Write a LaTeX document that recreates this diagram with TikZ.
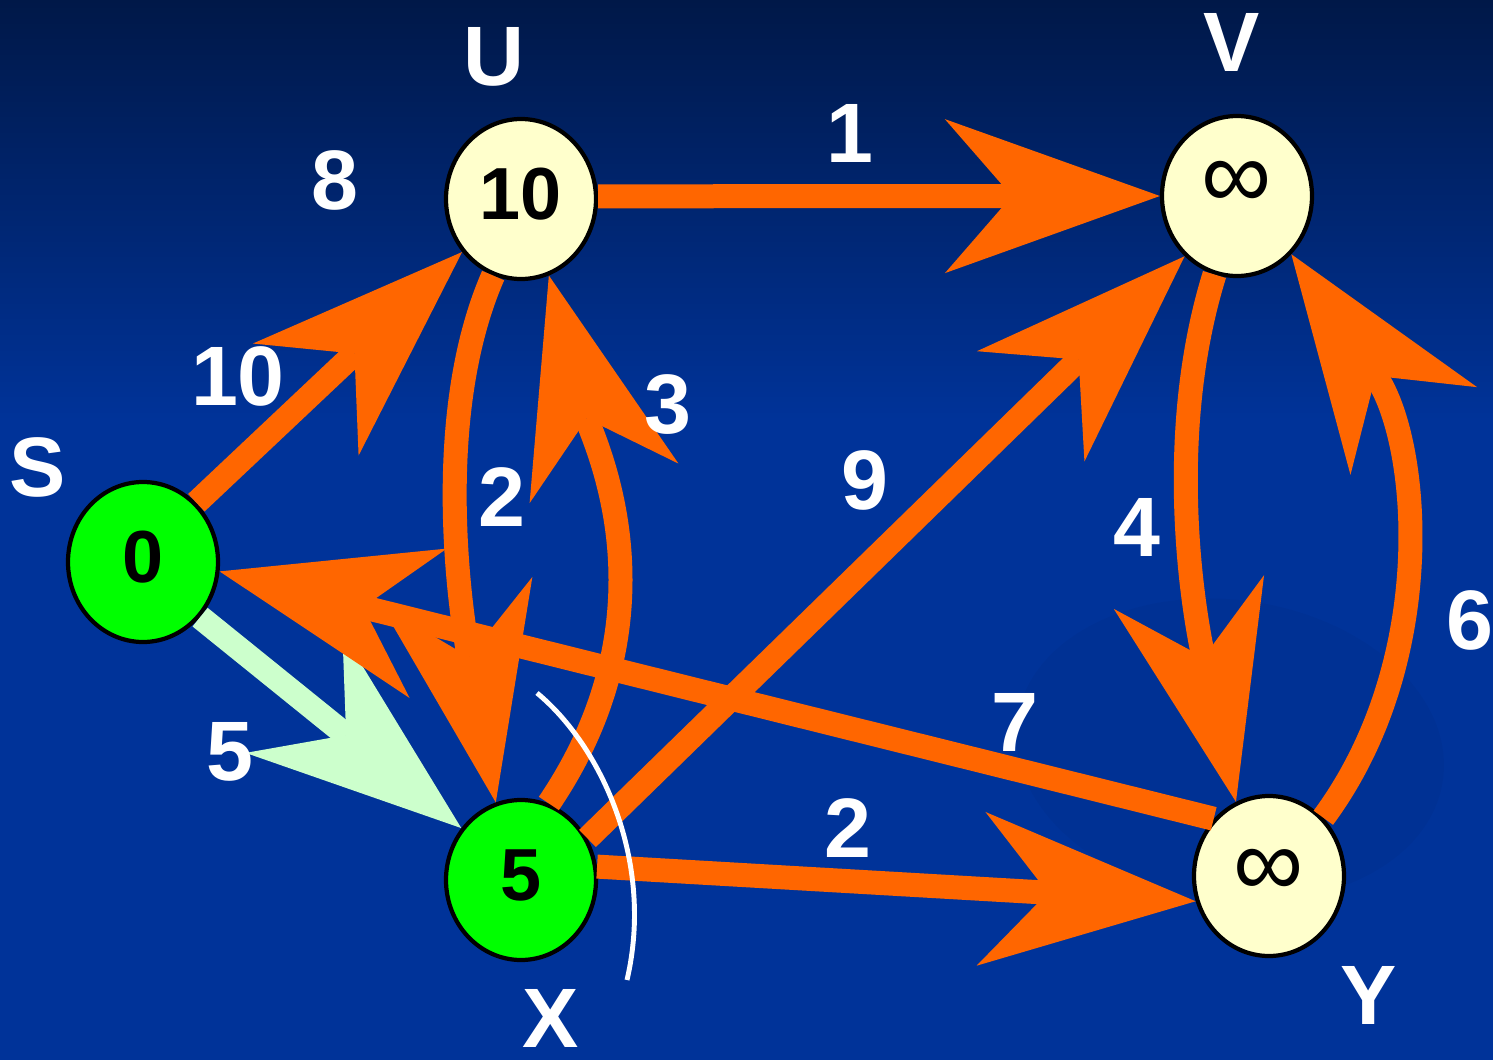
\documentclass[tikz,border=0pt]{standalone}
\usepackage{fontspec}
\setmainfont{Liberation Sans}
\usetikzlibrary{arrows.meta,shapes.geometric}
\definecolor{clrTop}{RGB}{0,24,72}
\definecolor{clrBg}{RGB}{0,51,153}
\definecolor{clrOr}{RGB}{255,102,0}
\definecolor{clrGr}{RGB}{0,255,0}
\definecolor{clrLG}{RGB}{204,255,204}
\definecolor{clrYe}{RGB}{255,255,204}
\newcommand{\infsym}{{\fontsize{28}{30}\selectfont\mdseries ∞}}

\begin{document}
\begin{tikzpicture}[x=0.1mm,y=0.1mm,
  vert/.style={ellipse,draw=black,line width=1.2pt,minimum width=1.5cm,
    minimum height=1.6cm,inner sep=0pt,text height=0.4cm,text depth=0pt,
    font=\fontsize{21}{24}\selectfont\bfseries},
  edge/.style={draw=clrOr,line width=0.24cm,
    -{Stealth[length=2.15cm,width=1.54cm,inset=0.67cm,line width=0pt]}},
  lbl/.style={text=white,inner sep=0pt,font=\fontsize{24}{28}\selectfont\bfseries}]

  \useasboundingbox (0,0) rectangle (1493,1060);
  \shade[top color=clrTop,bottom color=clrBg] (0,640) rectangle (1493,1060);
  \fill[clrBg] (0,0) rectangle (1493,641);
  \fill[black,opacity=0.03,rotate around={-8:(1230,310)}] (1230,310) ellipse (215 and 150);

  % --- vertices ---
  \node[vert,fill=clrGr] (S) at (143,498) {0};
  \node[vert,fill=clrYe] (U) at (521,861) {10};
  \node[vert,fill=clrYe] (V) at (1237,864) {\raisebox{0.08cm}{\infsym}};
  \node[vert,fill=clrGr] (X) at (521,180) {5};
  \node[vert,fill=clrYe] (Y) at (1269,184) {\infsym};

  % --- edges ---
  \draw[edge,draw=clrLG] (S.-44) -- (X.139);
  \draw[edge] (S.48) -- (U.222);
  \draw[edge] (U.2) -- (V.180);
  \draw[edge] (U.250) .. controls (430,640) and (462,440) .. (X.108);
  \draw[edge] (X.70) .. controls (680,450) and (592,622) .. (U.-70);
  \draw[edge] (X.32) -- (V.229);
  \draw[edge] (X.10) -- (Y.199);
  \draw[edge] (V.254) .. controls (1160,610) and (1199,423) .. (Y.114);
  \draw[edge] (Y.47) .. controls (1440,400) and (1420,620) .. (V.-47);
  \draw[edge] (Y.134) -- (S.-7);

  % cut
  \draw[white,line width=1.4pt] (537,367) .. controls (600,315) and (655,200) .. (627,80);

  % --- names and weights ---
  \foreach \nm/\x/\y/\txt in {nS/38/593/S, nU/494/1003/U, nV/1232/1018/V,
      nX/551/42/X, nY/1369/65/Y, w8/335/880/8, wSU/238/684/10, wUV/850/927/1,
      wUX/502/563/2, wXU/668/655/3, wXV/865/580/9, wVY/1137/533/4,
      wYV/1470/440/6, wYS/1015/338/7, wXY/848/232/2, wSX/230/308/5}
    \node[lbl] (\nm) at (\x,\y) {\txt};
\end{tikzpicture}
\end{document}
